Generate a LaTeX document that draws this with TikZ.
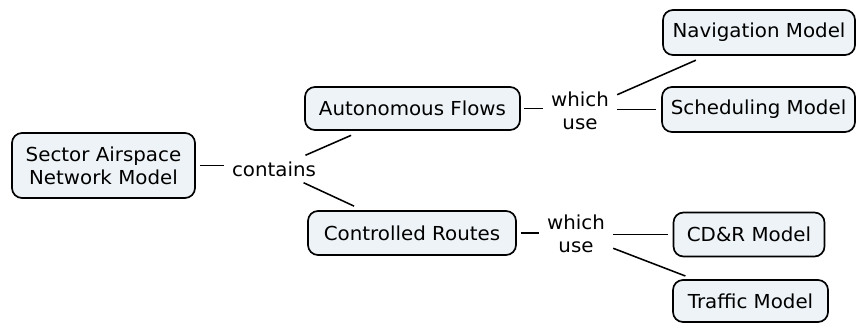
\documentclass[tikz,border=0pt]{standalone}
\usepackage{fontspec}
\setmainfont{DejaVu Sans}[FakeStretch=1.03]
\definecolor{conceptfill}{RGB}{237,243,246}

\begin{document}
\begin{tikzpicture}[
    concept/.style={draw, line width=1.2pt, rounded corners=0.25cm, fill=conceptfill,
      align=center, inner sep=0pt, font=\fontsize{13.7}{16.4}\selectfont},
    phrase/.style={align=center, inner xsep=0.2cm, inner ysep=0.15cm,
      font=\fontsize{13.7}{16.8}\selectfont},
    link/.style={line width=1.1pt}
  ]
    \useasboundingbox (0,0) rectangle (21.4,8.05);

    % concepts
    \node [concept, minimum width=4.575cm, minimum height=1.625cm] (sector) at (2.5875,3.9125) {Sector Airspace\\Network Model};
    \node [concept, minimum width=5.375cm, minimum height=1.075cm] (flows) at (10.3125,5.3375) {Autonomous Flows};
    \node [concept, minimum width=5.2cm, minimum height=1.1cm] (routes) at (10.3,2.225) {Controlled Routes};
    \node [concept, minimum width=4.8cm, minimum height=1.125cm] (nav) at (18.975,7.2375) {Navigation Model};
    \node [concept, minimum width=4.825cm, minimum height=1.125cm] (sched) at (18.9625,5.3125) {Scheduling Model};
    \node [concept, minimum width=3.775cm, minimum height=1.1cm] (cdr) at (18.725,2.1875) {CD\&R Model};
    \node [concept, minimum width=3.875cm, minimum height=1.05cm] (traffic) at (18.7625,0.525) {Traffic Model};

    % linking phrases
    \node [phrase] (contains) at (6.85,3.825) {contains};
    \node [phrase] (use1) at (14.5,5.275) {which\\use};
    \node [phrase] (use2) at (14.4,2.2) {which\\use};

    % links
    \draw [link, shorten <=0.1cm] (sector) -- (sector -| contains.west);
    \draw [link, shorten >=0.28cm] (contains) -- (flows);
    \draw [link, shorten >=0.24cm] (contains) -- (routes);

    \draw [link, shorten <=0.08cm] (flows) -- (flows -| use1.west);
    \draw [link, shorten >=0.27cm] (use1) -- (nav);
    \draw [link, shorten >=0.12cm] (use1.east |- sched) -- (sched);

    \draw [link, shorten <=0.1cm] (routes) -- (routes -| use2.west);
    \draw [link, shorten >=0.12cm] (use2.east |- cdr) -- (cdr);
    \draw [link, shorten >=0.22cm] (use2) -- (traffic);
\end{tikzpicture}
\end{document}
